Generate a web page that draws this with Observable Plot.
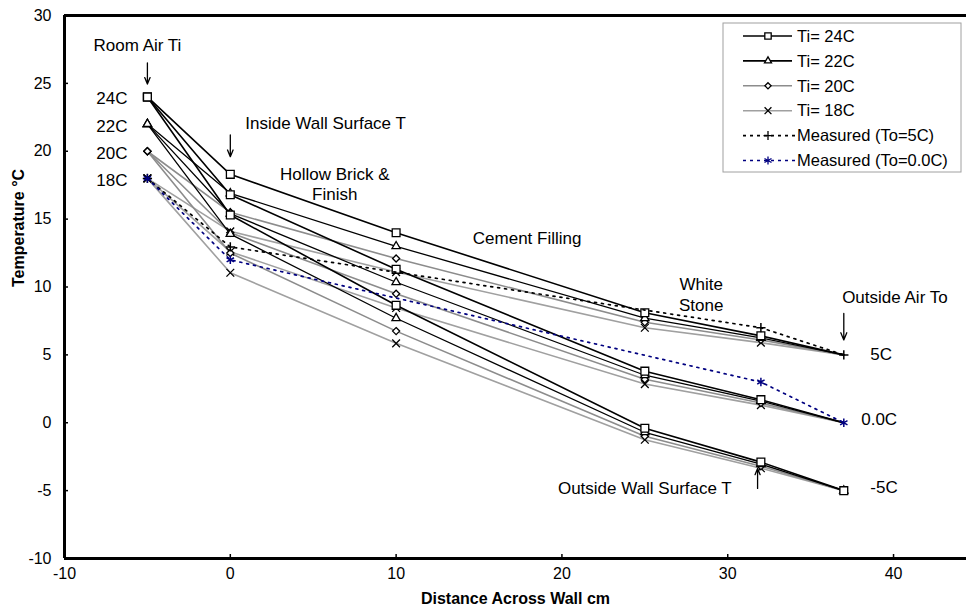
<!DOCTYPE html>
<html><head><meta charset="utf-8">
<script src="https://cdn.jsdelivr.net/npm/d3@7"></script>
<script src="https://cdn.jsdelivr.net/npm/@observablehq/plot@0.6"></script>
<style>
html,body{margin:0;padding:0;background:#fff;overflow:hidden;}
#chart{width:966px;height:612px;}
svg{font-family:"Liberation Sans",Arial,sans-serif;}
</style></head><body><div id="chart"></div>
<script>
// ---- data ----
const positions = [-5, 0, 10, 25, 32, 37];           // cm across wall
const xTicks = [-10, 0, 10, 20, 30, 40];
const yTicks = [-10, -5, 0, 5, 10, 15, 20, 25, 30];
const xDomain = [-10, 44.4];
const yDomain = [-10, 30];

// Ti = 24C
const ti24_to5  = [24, 18.3, 14.0, 8.1, 6.4, 5];
const ti24_to0  = [24, 16.8, 11.3, 3.8, 1.7, 0];
const ti24_tom5 = [24, 15.3, 8.65, -0.4, -2.9, -5];
// Ti = 22C
const ti22_to5  = [22, 16.9, 13.0, 7.7, 6.25, 5];
const ti22_to0  = [22, 15.4, 10.35, 3.5, 1.6, 0];
const ti22_tom5 = [22, 13.9, 7.7, -0.7, -3.05, -5];
// Ti = 20C
const ti20_to5  = [20, 15.5, 12.1, 7.4, 6.1, 5];
const ti20_to0  = [20, 14.0, 9.5, 3.2, 1.45, 0];
const ti20_tom5 = [20, 12.5, 6.75, -1.0, -3.2, -5];
// Ti = 18C
const ti18_to5  = [18, 14.1, 11.1, 7.0, 5.9, 5];
const ti18_to0  = [18, 12.6, 8.45, 2.85, 1.3, 0];
const ti18_tom5 = [18, 11.05, 5.85, -1.25, -3.35, -5];

// measured
const measPositions = [-5, 0, 32, 37];
const measured_to5 = [18, 12.95, 7.0, 5];
const measured_to0 = [18, 12.0, 3.0, 0];

// labels
const insideTemps = [24, 22, 20, 18];
const insideLabels = ["24C", "22C", "20C", "18C"];
const outsideLabels = ["5C", "0.0C", "-5C"];
const outsideLabelY = [5, 0.2, -4.8];
const legendLabels = ["Ti= 24C", "Ti= 22C", "Ti= 20C", "Ti= 18C", "Measured (To=5C)", "Measured (To=0.0C)"];

const notesMid = ["Room Air Ti", "Hollow Brick &\nFinish", "Cement Filling", "White\nStone", "Outside Wall Surface T"];
const notesMidX = [-5.6, 6.3, 17.9, 28.4, 25.0];
const notesMidY = [27.86, 17.62, 13.65, 9.5, -4.77];
const notesStart = ["Inside Wall Surface T", "Outside Air To"];
const notesStartX = [0.9, 36.9];
const notesStartY = [22.05, 9.25];

const arrowX = [-5, 0, 37, 31.8];
const arrowY1 = [26.5, 21.2, 8.05, -4.84];
const arrowY2 = [24.95, 19.6, 6.1, -3.37];

// ---- build rows ----
const series = [
  {ti: 24, to: 5, v: ti24_to5}, {ti: 24, to: 0, v: ti24_to0}, {ti: 24, to: -5, v: ti24_tom5},
  {ti: 22, to: 5, v: ti22_to5}, {ti: 22, to: 0, v: ti22_to0}, {ti: 22, to: -5, v: ti22_tom5},
  {ti: 20, to: 5, v: ti20_to5}, {ti: 20, to: 0, v: ti20_to0}, {ti: 20, to: -5, v: ti20_tom5},
  {ti: 18, to: 5, v: ti18_to5}, {ti: 18, to: 0, v: ti18_to0}, {ti: 18, to: -5, v: ti18_tom5}
];
const rows = series.flatMap(s => s.v.map((y, i) => ({x: positions[i], y, ti: s.ti, to: s.to, key: s.ti + "|" + s.to})));
const meas5 = measured_to5.map((y, i) => ({x: measPositions[i], y}));
const meas0 = measured_to0.map((y, i) => ({x: measPositions[i], y}));

const style = {
  24: {stroke: "#000000", symbol: "square", r: 4.4, w: 1.6},
  22: {stroke: "#000000", symbol: "triangle", r: 3.1, w: 1.3},
  20: {stroke: "#8c8c8c", symbol: "diamond2", r: 3.2, w: 1.6},
  18: {stroke: "#a0a0a0", symbol: "times", r: 3.6, w: 1.6}
};
const measStyle = [
  {stroke: "#000000", symbol: "plus", r: 3.1, dash: "2,5"},
  {stroke: "#000080", symbol: "asterisk", r: 4.0, dash: "2,5"}
];

const marks = [];
for (const ti of [18, 20, 22, 24]) {
  const s = style[ti];
  const d = rows.filter(r => r.ti === ti);
  marks.push(Plot.line(d, {x: "x", y: "y", z: "key", stroke: s.stroke, strokeWidth: s.w}));
}
for (const ti of [18, 20, 22, 24]) {
  const s = style[ti];
  const d = rows.filter(r => r.ti === ti && !(r.x === positions[positions.length - 1] && r.to !== -5));
  marks.push(Plot.dot(d, {x: "x", y: "y", symbol: () => s.symbol, r: s.r, fill: "white", stroke: "black", strokeWidth: 1.3}));
}
[meas5, meas0].forEach((d, i) => {
  const s = measStyle[i];
  marks.push(Plot.line(d, {x: "x", y: "y", stroke: s.stroke, strokeWidth: 1.7, strokeDasharray: s.dash}));
  marks.push(Plot.dot(d, {x: "x", y: "y", symbol: () => s.symbol, r: s.r, stroke: s.stroke, strokeWidth: 1.5}));
});

const fmt = d => String(d);
const noteSize = 17;

const chart = Plot.plot({
  width: 966, height: 612,
  marginLeft: 64, marginRight: 0, marginTop: 15, marginBottom: 54,
  style: {fontFamily: "'Liberation Sans', Arial, sans-serif", fontSize: "16px", background: "white", color: "black"},
  x: {domain: xDomain},
  y: {domain: yDomain},
  marks: [
    Plot.axisX(xTicks, {tickSize: -4, tickPadding: 13, fontSize: 16, label: null, strokeWidth: 1.5, tickFormat: fmt}),
    Plot.axisY(yTicks, {tickSize: -4, tickPadding: 17, fontSize: 16, label: null, strokeWidth: 1.5, tickFormat: fmt}),
    ...marks,
    Plot.ruleX([xDomain[0]], {strokeWidth: 3, stroke: "black"}),
    Plot.ruleY([yDomain[0]], {strokeWidth: 3, stroke: "black"}),
    Plot.ruleY([yDomain[1]], {strokeWidth: 3, stroke: "black"}),
    Plot.text(notesMid, {x: (d, i) => notesMidX[i], y: (d, i) => notesMidY[i], text: d => d, fontSize: noteSize, textAnchor: "middle", lineHeight: 1.2, fill: "black"}),
    Plot.text(notesStart, {x: (d, i) => notesStartX[i], y: (d, i) => notesStartY[i], text: d => d, fontSize: noteSize, textAnchor: "start", fill: "black"}),
    Plot.text(insideLabels, {x: () => -6.2, y: (d, i) => insideTemps[i], text: d => d, fontSize: noteSize, textAnchor: "end", dy: 2, fill: "black"}),
    Plot.text(outsideLabels, {x: (d, i) => i === 1 ? 38.05 : 38.6, y: (d, i) => outsideLabelY[i], text: d => d, fontSize: noteSize, textAnchor: "start", fill: "black"}),
    Plot.arrow(arrowX, {x1: d => d, x2: d => d, y1: (d, i) => arrowY1[i], y2: (d, i) => arrowY2[i], stroke: "black", strokeWidth: 1.3, headLength: 9, headAngle: 45}),
    Plot.text(["Temperature °C"], {frameAnchor: "left", dx: -46, rotate: -90, fontWeight: "bold", fontSize: 16, fill: "black"}),
    Plot.text(["Distance Across Wall cm"], {frameAnchor: "bottom", dy: 45, fontWeight: "bold", fontSize: 16, fill: "black"})
  ]
});
document.getElementById("chart").appendChild(chart);

// ---- legend (inside plot, top right) ----
const svg = d3.select(chart);
const lg = svg.append("g").attr("font-family", "'Liberation Sans', Arial, sans-serif").attr("font-size", 16.5).attr("text-anchor", "start");
lg.append("rect").attr("x", 723).attr("y", 23).attr("width", 238).attr("height", 149)
  .attr("fill", "white").attr("stroke", "#a0a0a0").attr("stroke-width", 1);
const legendItems = [
  {stroke: style[24].stroke, symbol: d3.symbolSquare, size: Math.PI * 3.6 * 3.6, dash: null, mstroke: "black", fill: "white"},
  {stroke: style[22].stroke, symbol: d3.symbolTriangle, size: Math.PI * 2.6 * 2.6, dash: null, mstroke: "black", fill: "white"},
  {stroke: style[20].stroke, symbol: d3.symbolDiamond2, size: Math.PI * 2.8 * 2.8, dash: null, mstroke: "black", fill: "white"},
  {stroke: style[18].stroke, symbol: d3.symbolTimes, size: Math.PI * 3.2 * 3.2, dash: null, mstroke: "black", fill: "none"},
  {stroke: "#000000", symbol: d3.symbolPlus, size: Math.PI * 3.0 * 3.0, dash: "3,4", mstroke: "black", fill: "none"},
  {stroke: "#000080", symbol: d3.symbolAsterisk, size: Math.PI * 3.8 * 3.8, dash: "3,4", mstroke: "#000080", fill: "none"}
];
legendItems.forEach((it, i) => {
  const y = 36 + i * 24.9;
  const xr = it.dash ? 795 : 792;
  lg.append("line").attr("x1", 743).attr("x2", xr).attr("y1", y).attr("y2", y)
    .attr("stroke", it.stroke).attr("stroke-width", 1.6).attr("stroke-dasharray", it.dash);
  lg.append("path").attr("d", d3.symbol(it.symbol, it.size)()).attr("transform", `translate(768,${y})`)
    .attr("fill", it.fill).attr("stroke", it.mstroke).attr("stroke-width", 1.3);
  lg.append("text").attr("x", 797).attr("y", y).attr("dy", "0.35em").attr("fill", "black").text(legendLabels[i]);
});
</script></body></html>
